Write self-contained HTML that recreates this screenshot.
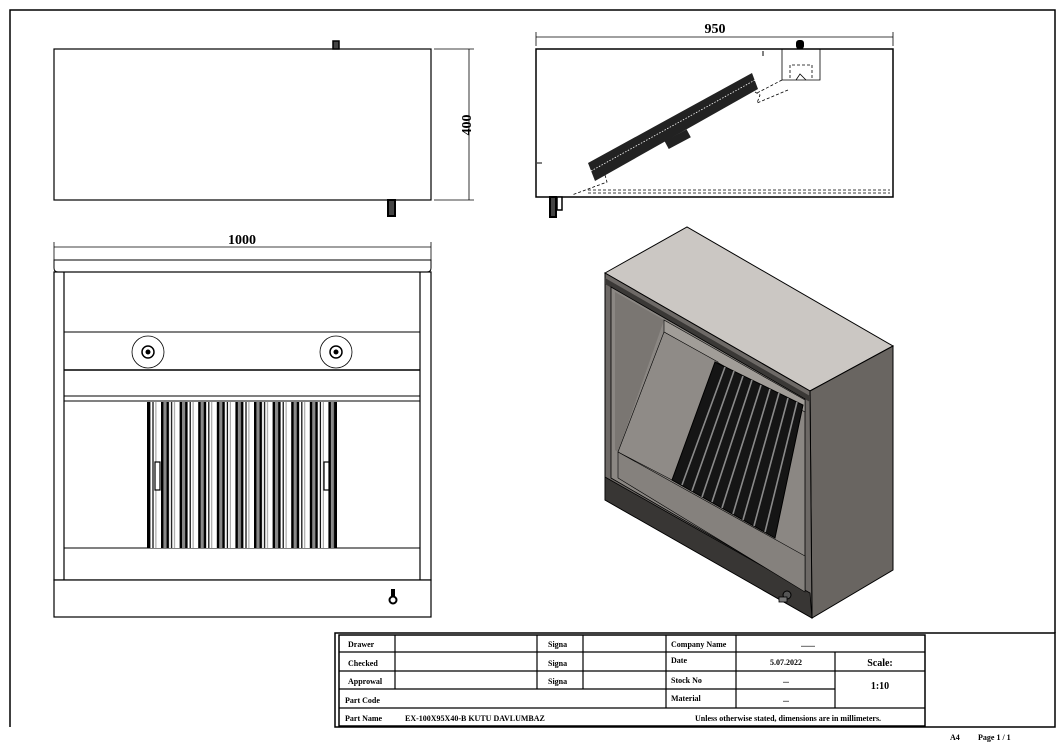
<!DOCTYPE html>
<html><head><meta charset="utf-8"><style>
html,body{margin:0;padding:0;background:#fff;}
svg{display:block;}
text{font-family:"Liberation Serif",serif;font-weight:bold;fill:#000;}
</style></head><body>
<svg width="1062" height="742" viewBox="0 0 1062 742" xmlns="http://www.w3.org/2000/svg">
<defs>
<pattern id="fil" x="161" y="0" width="18.6" height="10" patternUnits="userSpaceOnUse">
<rect x="0" y="0" width="18.6" height="10" fill="#fff"/>
<rect x="0" y="0" width="2.5" height="10" fill="#000"/>
<rect x="2.5" y="0" width="3" height="10" fill="#888"/>
<rect x="5.5" y="0" width="2.5" height="10" fill="#000"/>
<rect x="10" y="0" width="1.2" height="10" fill="#000"/>
<rect x="13" y="0" width="1" height="10" fill="#999"/>
</pattern>
</defs>
<!-- page border -->
<path d="M10 727 V10 H1055 V633" fill="none" stroke="#000" stroke-width="1.5"/>

<!-- TOP-LEFT VIEW -->
<rect x="54" y="49" width="377" height="151" fill="#fff" stroke="#000" stroke-width="1.2"/>
<rect x="333" y="41" width="6" height="8" fill="#444" stroke="#000" stroke-width="1.5"/>
<rect x="388" y="200" width="7" height="16" fill="#444" stroke="#000" stroke-width="2"/>
<line x1="434" y1="49" x2="474" y2="49" stroke="#000" stroke-width="0.8"/>
<line x1="434" y1="200" x2="474" y2="200" stroke="#000" stroke-width="0.8"/>
<line x1="469" y1="49" x2="469" y2="200" stroke="#000" stroke-width="0.8"/>
<text x="466" y="125" font-size="14" text-anchor="middle" transform="rotate(-90 466 125)" dy="5">400</text>

<!-- FRONT VIEW -->
<line x1="54" y1="247" x2="431" y2="247" stroke="#000" stroke-width="0.8"/>
<line x1="54" y1="242" x2="54" y2="262" stroke="#000" stroke-width="0.8"/>
<line x1="431" y1="242" x2="431" y2="262" stroke="#000" stroke-width="0.8"/>
<text x="242" y="244" font-size="14" text-anchor="middle">1000</text>
<path d="M54 260 H431 V268 Q431 272 427 272 H58 Q54 272 54 268 Z" fill="#fff" stroke="#000" stroke-width="1"/>
<rect x="54" y="272" width="377" height="308" fill="#fff" stroke="#000" stroke-width="1.2"/>
<line x1="64" y1="272" x2="64" y2="580" stroke="#000" stroke-width="1.2"/>
<line x1="420" y1="272" x2="420" y2="580" stroke="#000" stroke-width="1.2"/>
<line x1="64" y1="332" x2="420" y2="332" stroke="#000" stroke-width="1"/>
<line x1="64" y1="370" x2="420" y2="370" stroke="#000" stroke-width="1.4"/>
<line x1="64" y1="396" x2="420" y2="396" stroke="#000" stroke-width="1"/>
<line x1="64" y1="401" x2="420" y2="401" stroke="#000" stroke-width="1"/>
<line x1="64" y1="548" x2="420" y2="548" stroke="#000" stroke-width="1"/>
<circle cx="148" cy="352" r="16" fill="#fff" stroke="#000" stroke-width="0.8"/>
<circle cx="148" cy="352" r="6" fill="#fff" stroke="#000" stroke-width="1.5"/>
<circle cx="148" cy="352" r="2.5" fill="#000"/>
<circle cx="336" cy="352" r="16" fill="#fff" stroke="#000" stroke-width="0.8"/>
<circle cx="336" cy="352" r="6" fill="#fff" stroke="#000" stroke-width="1.5"/>
<circle cx="336" cy="352" r="2.5" fill="#000"/>
<rect x="147" y="402" width="190" height="146" fill="url(#fil)"/>
<rect x="147" y="402" width="2" height="146" fill="#000"/>
<rect x="335" y="402" width="2" height="146" fill="#000"/>
<rect x="155" y="462" width="5" height="28" fill="#fff" stroke="#000" stroke-width="1.2"/>
<rect x="324" y="462" width="5" height="28" fill="#fff" stroke="#000" stroke-width="1.2"/>
<rect x="54" y="580" width="377" height="37" fill="#fff" stroke="#000" stroke-width="1.2"/>
<circle cx="393" cy="600" r="3.5" fill="#fff" stroke="#000" stroke-width="2"/>
<rect x="391" y="589" width="4" height="7" fill="#000"/>

<!-- SIDE VIEW -->
<line x1="536" y1="37" x2="893" y2="37" stroke="#000" stroke-width="0.8"/>
<line x1="536" y1="32" x2="536" y2="46" stroke="#000" stroke-width="0.8"/>
<line x1="893" y1="32" x2="893" y2="46" stroke="#000" stroke-width="0.8"/>
<text x="715" y="33" font-size="14" text-anchor="middle">950</text>
<rect x="536" y="49" width="357" height="148" fill="#fff" stroke="#000" stroke-width="1.5"/>
<rect x="796" y="40" width="8" height="9" rx="3" fill="#000"/>
<path d="M782 49 V80 H820 V49" fill="none" stroke="#000" stroke-width="0.8"/>
<path d="M790 78 V65 H812 V78" fill="none" stroke="#000" stroke-width="0.8" stroke-dasharray="3 2"/>
<path d="M796 80 L800 74 L806 80" fill="none" stroke="#000" stroke-width="0.8"/>
<path d="M782 80 L757 93" fill="none" stroke="#000" stroke-width="0.8" stroke-dasharray="3 2"/>
<path d="M752 73 L588 163 L595 181 L758 89 Z" fill="#222"/>
<path d="M755 80 L591 171" stroke="#fff" stroke-width="0.8" stroke-dasharray="1.5 1.5"/>
<rect x="665" y="135" width="25" height="9" fill="#222" transform="rotate(-28 677 139)"/>
<path d="M605 175 L607 182 L572 195" fill="none" stroke="#000" stroke-width="0.8" stroke-dasharray="3 2"/>
<path d="M755 92 L760 95 L757 103 L788 90" fill="none" stroke="#000" stroke-width="0.8" stroke-dasharray="3 2"/>
<line x1="588" y1="190" x2="890" y2="190" stroke="#000" stroke-width="0.8" stroke-dasharray="3 2"/>
<line x1="588" y1="193" x2="890" y2="193" stroke="#000" stroke-width="0.8" stroke-dasharray="3 2"/>
<line x1="763" y1="51" x2="763" y2="56" stroke="#000" stroke-width="1"/>
<line x1="537" y1="163" x2="542" y2="163" stroke="#000" stroke-width="1"/>
<rect x="550" y="197" width="6" height="20" fill="#444" stroke="#000" stroke-width="2"/>
<rect x="557" y="197" width="5" height="13" fill="#fff" stroke="#000" stroke-width="1.5"/>

<!-- ISO VIEW -->
<polygon points="605,273 687,227 893,346 810,391" fill="#cbc7c3" stroke="#000" stroke-width="1"/>
<polygon points="810,391 893,346 893,570 812,618" fill="#696561" stroke="#000" stroke-width="1"/>
<polygon points="605,273 810,391 812,618 605,500" fill="#6d6966" stroke="#000" stroke-width="1"/>
<polygon points="605,278 810,396 810,402 605,284" fill="#3a3836"/>
<polygon points="605,477 810,593 812,618 605,500" fill="#383634" stroke="#000" stroke-width="0.8"/>
<polygon points="611,287 805,399 805,590 611,478" fill="#8b8783" stroke="#000" stroke-width="0.8"/>
<polygon points="615,292 664,320 618,452 615,450" fill="#7a7672"/>
<polygon points="664,320 805,400 805,412 664,332" fill="#a19d98" stroke="#000" stroke-width="0.6"/>
<polygon points="664,332 718,362 672,480 618,452" fill="#8f8b87" stroke="#000" stroke-width="0.6"/>
<polygon points="618,452 805,556 805,592 618,478" fill="#85817d" stroke="#000" stroke-width="0.6"/>
<polygon points="715,362 803,405 775,538 672,480" fill="#151515" stroke="#000" stroke-width="1"/>
<g stroke="#8a8a8a" stroke-width="1.6">
<line x1="725" y1="367" x2="682" y2="485"/>
<line x1="734" y1="371" x2="692" y2="491"/>
<line x1="743" y1="376" x2="702" y2="497"/>
<line x1="752" y1="380" x2="712" y2="502"/>
<line x1="761" y1="385" x2="722" y2="508"/>
<line x1="770" y1="389" x2="733" y2="514"/>
<line x1="779" y1="393" x2="743" y2="520"/>
<line x1="788" y1="398" x2="754" y2="526"/>
<line x1="797" y1="402" x2="765" y2="532"/>
</g>
<circle cx="787" cy="595" r="4" fill="#555" stroke="#000" stroke-width="1"/>
<rect x="779" y="597" width="8" height="5" fill="#777" stroke="#000" stroke-width="0.8"/>

<!-- TITLE BLOCK -->
<rect x="335" y="633" width="720" height="94" fill="#fff" stroke="#000" stroke-width="1.5"/>
<rect x="339" y="635" width="586" height="91" fill="none" stroke="#000" stroke-width="1.5"/>
<g stroke="#000" stroke-width="1.2" fill="none">
<line x1="339" y1="652" x2="925" y2="652"/>
<line x1="339" y1="671" x2="835" y2="671"/>
<line x1="339" y1="689" x2="835" y2="689"/>
<line x1="339" y1="708" x2="925" y2="708"/>
<line x1="835" y1="671" x2="925" y2="671"/>
<line x1="395" y1="635" x2="395" y2="689"/>
<line x1="537" y1="635" x2="537" y2="689"/>
<line x1="583" y1="635" x2="583" y2="689"/>
<line x1="666" y1="635" x2="666" y2="708"/>
<line x1="736" y1="635" x2="736" y2="708"/>
<line x1="835" y1="652" x2="835" y2="708"/>
</g>
<g font-size="8">
<text x="348" y="647">Drawer</text>
<text x="348" y="666">Checked</text>
<text x="348" y="684">Approwal</text>
<text x="345" y="703">Part Code</text>
<text x="345" y="721">Part Name</text>
<text x="405" y="721">EX-100X95X40-B KUTU DAVLUMBAZ</text>
<text x="695" y="721">Unless otherwise stated, dimensions are in millimeters.</text>
<text x="548" y="647">Signa</text>
<text x="548" y="666">Signa</text>
<text x="548" y="684">Signa</text>
<text x="671" y="647">Company Name</text>
<text x="671" y="663">Date</text>
<text x="671" y="683">Stock No</text>
<text x="671" y="701">Material</text>
<text x="808" y="647" text-anchor="middle">.......</text>
<text x="786" y="665" text-anchor="middle">5.07.2022</text>
<text x="786" y="683" text-anchor="middle">...</text>
<text x="786" y="702" text-anchor="middle">...</text>
<text x="950" y="740">A4</text>
<text x="978" y="740">Page 1 / 1</text>
</g>
<text x="880" y="666" font-size="10" text-anchor="middle">Scale:</text>
<text x="880" y="689" font-size="10" text-anchor="middle">1:10</text>
</svg>
</body></html>
